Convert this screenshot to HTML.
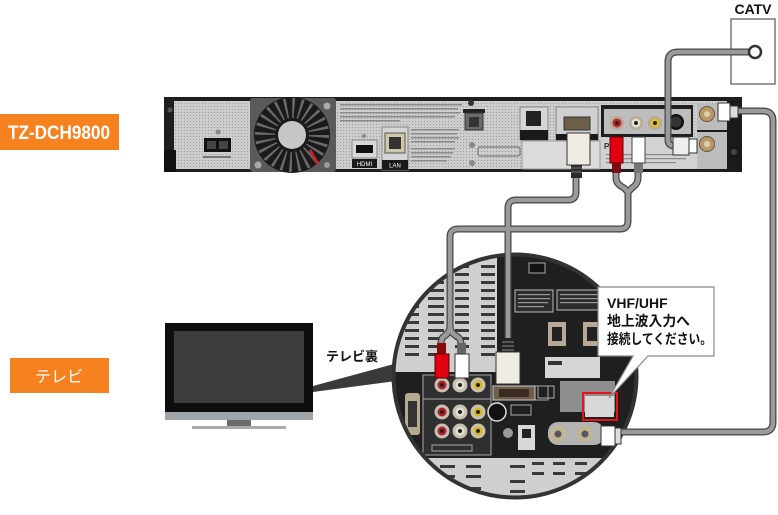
<!DOCTYPE html>
<html><head><meta charset="utf-8">
<style>
html,body{margin:0;padding:0;background:#fff;width:778px;height:515px;overflow:hidden}
svg{display:block}
</style></head><body>
<svg width="778" height="515" viewBox="0 0 778 515" xmlns="http://www.w3.org/2000/svg">
<defs>
<pattern id="dots" width="3" height="3" patternUnits="userSpaceOnUse">
<rect width="3" height="3" fill="#cdcdcd"/>
<rect x="1" y="1" width="1" height="1" fill="#9c9c9c"/>
</pattern>
<clipPath id="cc"><circle cx="515" cy="376" r="120"/></clipPath>
</defs>

<!-- labels -->
<rect x="0" y="114" width="119" height="36" fill="#f5821f"/>
<text x="59" y="139" text-anchor="middle" font-family="Liberation Sans, sans-serif" font-weight="bold" font-size="19" fill="#fff" textLength="102" lengthAdjust="spacingAndGlyphs">TZ-DCH9800</text>
<rect x="10" y="358" width="99" height="35" fill="#f5821f"/>
<text x="59" y="382" text-anchor="middle" font-family="Liberation Sans, 'Noto Sans CJK JP', sans-serif" font-size="16" fill="#fff">テレビ</text>

<!-- CATV -->
<text x="753" y="14" text-anchor="middle" font-family="Liberation Sans, sans-serif" font-weight="bold" font-size="14" fill="#111">CATV</text>
<rect x="731" y="19" width="44" height="65" fill="#fff" stroke="#777" stroke-width="1.5"/>

<!-- recorder -->
<rect x="164" y="97" width="578" height="75" fill="#1e1e1e"/>
<rect x="174" y="101" width="553" height="68" fill="url(#dots)"/>
<rect x="164" y="150" width="12" height="22" fill="#111"/>
<circle cx="170" cy="110" r="2.5" fill="#555"/>
<!-- power -->
<rect x="204" y="138" width="27" height="14" fill="#111"/>
<rect x="207" y="141" width="9" height="8" fill="#444"/>
<rect x="219" y="141" width="9" height="8" fill="#444"/>
<rect x="203" y="156" width="28" height="2" fill="#777"/>
<circle cx="218" cy="132" r="2.5" fill="#888"/>
<!-- fan -->
<rect x="250" y="98" width="86" height="74" rx="3" fill="#5a5a5a"/>
<circle cx="292" cy="135" r="38" fill="#1a1a1a"/>
<circle cx="292" cy="135" r="27" fill="none" stroke="#6a6a6a" stroke-width="20" stroke-dasharray="2.2 4.87"/>
<circle cx="292" cy="135" r="14" fill="#c6c6c6"/>
<circle cx="327" cy="106" r="3.5" fill="#aaa"/>
<circle cx="258" cy="165" r="3.5" fill="#aaa"/>
<circle cx="327" cy="165" r="3" fill="#999"/>
<path d="M310,150 L318,164" stroke="#c0272d" stroke-width="3"/>
<!-- text blocks -->
<g fill="#8a8a8a">
<rect x="340" y="104" width="122" height="1.5"/><rect x="340" y="108" width="118" height="1.5"/>
<rect x="340" y="112" width="120" height="1.5"/><rect x="340" y="116" width="115" height="1.5"/>
<rect x="340" y="120" width="60" height="1.5"/>
<rect x="411" y="129" width="48" height="1.5"/><rect x="411" y="133" width="46" height="1.5"/>
<rect x="411" y="137" width="48" height="1.5"/><rect x="411" y="141" width="44" height="1.5"/>
<rect x="411" y="148" width="44" height="1.5"/><rect x="411" y="152" width="42" height="1.5"/>
<rect x="411" y="156" width="40" height="1.5"/><rect x="411" y="160" width="36" height="1.5"/>
</g>
<!-- HDMI port -->
<rect x="352" y="140" width="25" height="18" fill="#d8d8d8" stroke="#888"/>
<rect x="356" y="145" width="17" height="8" fill="#111"/>
<rect x="352" y="159" width="25" height="9" fill="#1a1a1a"/>
<text x="364.5" y="166" text-anchor="middle" font-family="Liberation Sans, sans-serif" font-size="6" fill="#fff">HDMI</text>
<circle cx="364" cy="136" r="2" fill="#888"/>
<!-- LAN -->
<rect x="382" y="127" width="26" height="43" fill="#d5d5d5" stroke="#888"/>
<rect x="385" y="133" width="20" height="20" fill="#cfc8a8" stroke="#555"/>
<rect x="389" y="137" width="12" height="12" fill="#333"/>
<rect x="382" y="160" width="26" height="10" fill="#1a1a1a"/>
<text x="395" y="167.5" text-anchor="middle" font-family="Liberation Sans, sans-serif" font-size="6" fill="#fff">LAN</text>
<!-- phone -->
<circle cx="471" cy="103" r="3" fill="#333"/>
<rect x="463" y="109" width="22" height="4" fill="#222"/>
<rect x="465" y="113" width="18" height="17" fill="#6a6a6a" stroke="#333"/>
<rect x="469" y="117" width="10" height="10" fill="#333"/>
<circle cx="472" cy="145" r="3" fill="#888"/>
<circle cx="472" cy="163" r="3" fill="#888"/>
<rect x="478" y="147" width="42" height="9" rx="2" fill="none" stroke="#666"/>
<!-- optical -->
<rect x="520" y="107" width="28" height="33" fill="#d5d5d5" stroke="#888"/>
<rect x="526" y="111" width="15" height="15" fill="#222"/>
<rect x="520" y="130" width="28" height="10" fill="#1a1a1a"/>
<rect x="522" y="141" width="78" height="28" fill="#dcdcdc" stroke="#9a9a9a"/>
<!-- D-sub area -->
<rect x="556" y="107" width="42" height="33" fill="#d0d0d0" stroke="#888"/>
<rect x="564" y="117" width="26" height="13" fill="#6d5e4a" stroke="#333"/>
<rect x="556" y="134" width="42" height="6" fill="#1a1a1a"/>
<!-- AV section -->
<rect x="601" y="105" width="92" height="32" fill="#1e1e1e"/>
<rect x="604" y="109" width="87" height="25" fill="#bdbdbd"/>
<circle cx="617" cy="123" r="7" fill="#b8aa96"/><circle cx="617" cy="123" r="4.5" fill="#c0242c"/><circle cx="617" cy="123" r="2" fill="#222"/>
<circle cx="636" cy="123" r="7" fill="#b8aa96"/><circle cx="636" cy="123" r="4.5" fill="#e8e2d6"/><circle cx="636" cy="123" r="2" fill="#222"/>
<circle cx="655" cy="123" r="7" fill="#b8aa96"/><circle cx="655" cy="123" r="4.5" fill="#e2c21d"/><circle cx="655" cy="123" r="2" fill="#222"/>
<circle cx="676" cy="122" r="8" fill="#111"/><circle cx="676" cy="122" r="5.5" fill="#333"/>
<rect x="601" y="138" width="96" height="30" fill="#d2d2d2"/>
<text x="604" y="149" font-family="Liberation Sans, sans-serif" font-weight="bold" font-size="8" fill="#333">Pa</text>
<g fill="#888"><rect x="606" y="154" width="80" height="1.2"/><rect x="606" y="158" width="80" height="1.2"/><rect x="606" y="162" width="70" height="1.2"/></g>
<!-- antenna section -->
<rect x="697" y="104" width="30" height="65" fill="#bcbcbc"/>
<rect x="697" y="130" width="30" height="2" fill="#1a1a1a"/>
<circle cx="707" cy="114" r="7.5" fill="#b89a6a" stroke="#6a5535"/><circle cx="707" cy="114" r="3" fill="#e0d0a8"/>
<circle cx="707" cy="144" r="7.5" fill="#b89a6a" stroke="#6a5535"/><circle cx="707" cy="144" r="3" fill="#e0d0a8"/>
<rect x="727" y="101" width="15" height="71" fill="#1a1a1a"/>
<circle cx="734" cy="152" r="3" fill="#444"/>

<!-- TV -->
<rect x="165" y="323" width="148" height="89" fill="#0e0e0e"/>
<rect x="174" y="331" width="130" height="72" fill="#3d3d3d"/>
<rect x="165" y="412" width="148" height="8" fill="#9fa4a9"/>
<rect x="227" y="420" width="24" height="6" fill="#6b6b6b"/>
<rect x="192" y="426" width="94" height="3" fill="#a7abae"/>
<polygon points="313,386 313,392 396,381 394,364" fill="#3a3a3a"/>
<text x="326" y="361" font-family="Liberation Sans, 'Noto Sans CJK JP', sans-serif" font-weight="bold" font-size="13" fill="#111">テレビ裏</text>

<!-- circle content -->
<g clip-path="url(#cc)">
<rect x="390" y="250" width="250" height="255" fill="#cfcfcf"/>
<g fill="#3a3a3a">
<rect x="405" y="265" width="14" height="3"/><rect x="428" y="265" width="16" height="3"/><rect x="455" y="265" width="14" height="3"/><rect x="481" y="265" width="14" height="3"/>
<rect x="405" y="273" width="14" height="3"/><rect x="428" y="273" width="16" height="3"/><rect x="455" y="273" width="14" height="3"/><rect x="481" y="273" width="14" height="3"/>
<rect x="405" y="281" width="14" height="3"/><rect x="428" y="281" width="16" height="3"/><rect x="455" y="281" width="14" height="3"/><rect x="481" y="281" width="14" height="3"/>
<rect x="405" y="289" width="14" height="3"/><rect x="428" y="289" width="16" height="3"/><rect x="455" y="289" width="14" height="3"/><rect x="481" y="289" width="14" height="3"/>
<rect x="405" y="297" width="14" height="3"/><rect x="428" y="297" width="16" height="3"/><rect x="455" y="297" width="14" height="3"/><rect x="481" y="297" width="14" height="3"/>
<rect x="405" y="305" width="14" height="3"/><rect x="428" y="305" width="16" height="3"/><rect x="455" y="305" width="14" height="3"/><rect x="481" y="305" width="14" height="3"/>
<rect x="405" y="313" width="14" height="3"/><rect x="428" y="313" width="16" height="3"/><rect x="455" y="313" width="14" height="3"/><rect x="481" y="313" width="14" height="3"/>
<rect x="405" y="321" width="14" height="3"/><rect x="428" y="321" width="16" height="3"/><rect x="455" y="321" width="14" height="3"/><rect x="481" y="321" width="14" height="3"/>
<rect x="405" y="329" width="14" height="3"/><rect x="428" y="329" width="16" height="3"/><rect x="455" y="329" width="14" height="3"/><rect x="481" y="329" width="14" height="3"/>
<rect x="405" y="337" width="14" height="3"/><rect x="428" y="337" width="16" height="3"/><rect x="455" y="337" width="14" height="3"/><rect x="481" y="337" width="14" height="3"/>
<rect x="405" y="345" width="14" height="3"/><rect x="428" y="345" width="16" height="3"/><rect x="455" y="345" width="14" height="3"/><rect x="481" y="345" width="14" height="3"/>
<rect x="405" y="353" width="14" height="3"/><rect x="428" y="353" width="16" height="3"/><rect x="481" y="353" width="14" height="3"/>
</g>
<path d="M497,250 H640 V458 H390 V372 H497 Z" fill="#1f1f1f"/>
<g fill="#3a3a3a">
<rect x="440" y="465" width="15" height="3"/><rect x="466" y="465" width="15" height="3"/><rect x="510" y="465" width="15" height="3"/><rect x="532" y="462" width="12" height="3"/><rect x="553" y="462" width="12" height="3"/><rect x="575" y="462" width="12" height="3"/><rect x="598" y="462" width="12" height="3"/>
<rect x="440" y="475" width="15" height="3"/><rect x="466" y="475" width="15" height="3"/><rect x="510" y="480" width="15" height="3"/><rect x="532" y="472" width="12" height="3"/><rect x="553" y="472" width="12" height="3"/><rect x="575" y="472" width="12" height="3"/>
<rect x="466" y="487" width="15" height="3"/><rect x="510" y="490" width="15" height="3"/><rect x="440" y="487" width="15" height="3"/>
</g>
<!-- right dark panel details -->
<rect x="529" y="263" width="16" height="10" fill="#111" stroke="#aaa"/>
<rect x="515" y="290" width="38" height="22" fill="#2c2c2c" stroke="#bbb"/>
<g fill="#999"><rect x="518" y="294" width="32" height="1.2"/><rect x="518" y="298" width="32" height="1.2"/><rect x="518" y="302" width="30" height="1.2"/><rect x="518" y="306" width="26" height="1.2"/></g>
<rect x="557" y="290" width="45" height="20" fill="#2c2c2c" stroke="#bbb"/>
<g fill="#999"><rect x="560" y="294" width="38" height="1.2"/><rect x="560" y="298" width="38" height="1.2"/><rect x="560" y="302" width="38" height="1.2"/></g>
<rect x="548" y="322" width="18" height="24" fill="#b8a898"/><rect x="552" y="327" width="10" height="14" fill="#222"/>
<rect x="583" y="322" width="18" height="24" fill="#b8a898"/><rect x="587" y="327" width="10" height="14" fill="#222"/>
<rect x="545" y="357" width="55" height="21" fill="#d6d6d6"/>
<rect x="548" y="361" width="14" height="4" fill="#333"/>
<rect x="560" y="381" width="55" height="31" fill="#8e8e8e"/>
<rect x="532" y="386" width="16" height="14" fill="none" stroke="#aaa"/>
<rect x="518" y="425" width="17" height="25" fill="#d8d8d8"/><rect x="522" y="429" width="9" height="9" fill="#222"/>
<rect x="548" y="422" width="56" height="23" rx="10" fill="#b3b3b3"/>
<circle cx="558" cy="434" r="8" fill="#c2b590"/><circle cx="558" cy="434" r="3.5" fill="#556"/>
<circle cx="585" cy="434" r="8" fill="#c2b590"/><circle cx="585" cy="434" r="3.5" fill="#556"/>
<!-- left lower -->
<rect x="405" y="393" width="15" height="42" rx="3" fill="#b5a98f"/>
<rect x="408" y="401" width="9" height="26" fill="#333"/>
<rect x="423" y="375" width="68" height="80" fill="#2f2f2f" stroke="#aaa"/>
<line x1="423" y1="399" x2="491" y2="399" stroke="#aaa"/>
<g>
<circle cx="442" cy="385" r="7.5" fill="#c8c0b0"/><circle cx="442" cy="385" r="4.5" fill="#b5202a"/><circle cx="442" cy="385" r="2" fill="#222"/>
<circle cx="460" cy="385" r="7.5" fill="#c8c0b0"/><circle cx="460" cy="385" r="4.5" fill="#e6e0d2"/><circle cx="460" cy="385" r="2" fill="#222"/>
<circle cx="478" cy="385" r="7.5" fill="#c8c0b0"/><circle cx="478" cy="385" r="4.5" fill="#d8b820"/><circle cx="478" cy="385" r="2" fill="#222"/>
<circle cx="442" cy="412" r="7.5" fill="#c8c0b0"/><circle cx="442" cy="412" r="4.5" fill="#b5202a"/><circle cx="442" cy="412" r="2" fill="#222"/>
<circle cx="460" cy="412" r="7.5" fill="#c8c0b0"/><circle cx="460" cy="412" r="4.5" fill="#e6e0d2"/><circle cx="460" cy="412" r="2" fill="#222"/>
<circle cx="478" cy="412" r="7.5" fill="#c8c0b0"/><circle cx="478" cy="412" r="4.5" fill="#d8b820"/><circle cx="478" cy="412" r="2" fill="#222"/>
<circle cx="442" cy="431" r="7.5" fill="#c8c0b0"/><circle cx="442" cy="431" r="4.5" fill="#b5202a"/><circle cx="442" cy="431" r="2" fill="#222"/>
<circle cx="460" cy="431" r="7.5" fill="#c8c0b0"/><circle cx="460" cy="431" r="4.5" fill="#e6e0d2"/><circle cx="460" cy="431" r="2" fill="#222"/>
<circle cx="478" cy="431" r="7.5" fill="#c8c0b0"/><circle cx="478" cy="431" r="4.5" fill="#d8b820"/><circle cx="478" cy="431" r="2" fill="#222"/>
</g>
<rect x="432" y="445" width="40" height="6" fill="none" stroke="#aaa"/>
<rect x="493" y="386" width="42" height="14" fill="#6e5e4a" stroke="#ccc"/>
<rect x="499" y="389" width="30" height="8" fill="#3a2c20"/>
<circle cx="497" cy="412" r="9" fill="#111" stroke="#ddd" stroke-width="1.5"/>
<rect x="511" y="405" width="20" height="10" fill="none" stroke="#aaa"/>
<circle cx="508" cy="433" r="5" fill="#999"/>
<rect x="538" y="386" width="16" height="12" fill="none" stroke="#aaa"/>
</g>
<circle cx="515" cy="376" r="121.5" fill="none" stroke="#333" stroke-width="4"/>

<!-- red highlight -->
<rect x="585" y="396" width="29" height="21" fill="#d8d8d8"/>
<rect x="583" y="393" width="34" height="27" fill="none" stroke="#e8141c" stroke-width="2"/>

<!-- cables -->
<g fill="none" stroke-linecap="butt">
<g stroke="#444" stroke-width="7">
<path d="M755,52 L678,52 Q668,52 668,62 L668,140 Q668,146 675,146"/>
<path d="M736,111 L763,111 Q773,111 773,121 L773,422 Q773,432 763,432 L618,432"/>
<path d="M576,176 L576,192 Q576,200 568,200 L516,200 Q508,200 508,208 L508,340"/>
<path d="M616,172 L616,178 Q616,184 624,188 L628,192"/>
<path d="M638,172 L638,178 Q638,184 632,188 L628,192"/>
<path d="M628,190 L628,221 Q628,229 620,229 L458,229 Q450,229 450,237 L450,328"/>
<path d="M450,326 Q450,333 443,337 Q441,339 441,345"/>
<path d="M450,326 Q450,333 458,337 Q461,339 461,345"/>
</g>
<g stroke="#9a9a9a" stroke-width="4.5">
<path d="M755,52 L678,52 Q668,52 668,62 L668,140 Q668,146 675,146"/>
<path d="M736,111 L763,111 Q773,111 773,121 L773,422 Q773,432 763,432 L618,432"/>
<path d="M576,176 L576,192 Q576,200 568,200 L516,200 Q508,200 508,208 L508,340"/>
<path d="M616,172 L616,178 Q616,184 624,188 L628,192"/>
<path d="M638,172 L638,178 Q638,184 632,188 L628,192"/>
<path d="M628,190 L628,221 Q628,229 620,229 L458,229 Q450,229 450,237 L450,328"/>
<path d="M450,326 Q450,333 443,337 Q441,339 441,345"/>
<path d="M450,326 Q450,333 458,337 Q461,339 461,345"/>
</g>
</g>
<!-- CATV socket -->
<circle cx="755" cy="52" r="6" fill="#fff" stroke="#333" stroke-width="2.5"/>

<!-- recorder plugs -->
<rect x="571" y="164" width="11" height="14" fill="#2a2a2a"/>
<g stroke="#777" stroke-width="1"><line x1="571" y1="168" x2="582" y2="168"/><line x1="571" y1="172" x2="582" y2="172"/></g>
<rect x="567" y="133" width="23" height="32" fill="#efece4" stroke="#333"/>
<rect x="612" y="162" width="9" height="11" fill="#7a0e10"/>
<rect x="610" y="137" width="13" height="26" fill="#e3000f" stroke="#600"/>
<rect x="634" y="162" width="9" height="11" fill="#777"/>
<rect x="632" y="137" width="13" height="26" fill="#fff" stroke="#444"/>
<rect x="673" y="137" width="16" height="18" fill="#eee" stroke="#333"/>
<rect x="689" y="139" width="8" height="14" fill="#fff" stroke="#333"/>
<rect x="718" y="103" width="12" height="18" fill="#fff" stroke="#333"/>
<rect x="730" y="106" width="8" height="12" fill="#ddd" stroke="#333"/>

<!-- TV plugs -->
<rect x="437" y="343" width="9" height="12" fill="#8a0a0c"/>
<rect x="435" y="354" width="14" height="24" fill="#e3000f" stroke="#500"/>
<rect x="457" y="343" width="9" height="12" fill="#666"/>
<rect x="455" y="354" width="14" height="24" fill="#fff" stroke="#333"/>
<rect x="502" y="338" width="12" height="15" fill="#222"/>
<g stroke="#888"><line x1="502" y1="342" x2="514" y2="342"/><line x1="502" y1="346" x2="514" y2="346"/><line x1="502" y1="350" x2="514" y2="350"/></g>
<rect x="496" y="352" width="24" height="32" fill="#efece4" stroke="#333"/>
<rect x="601" y="426" width="14" height="20" fill="#fff" stroke="#333"/>
<rect x="615" y="428" width="6" height="16" fill="#ddd" stroke="#333"/>

<!-- callout -->
<path d="M598,287 H714 V356 H648 L609,398 L633,356 H598 Z" fill="#fff" stroke="#888" stroke-width="1.2"/>
<g font-family="Liberation Sans, 'Noto Sans CJK JP', sans-serif" font-weight="bold" font-size="14" fill="#111">
<text x="607" y="308">VHF/UHF</text>
<text x="607" y="326" textLength="83" lengthAdjust="spacingAndGlyphs">地上波入力へ</text>
<text x="607" y="344" textLength="105" lengthAdjust="spacingAndGlyphs">接続してください。</text>
</g>
</svg>
</body></html>
